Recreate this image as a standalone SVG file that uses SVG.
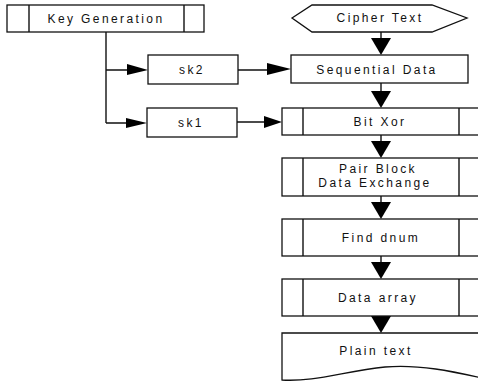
<svg xmlns="http://www.w3.org/2000/svg" width="478" height="384" viewBox="0 0 478 384">
<style>
.b{fill:#fff;stroke:#111;stroke-width:1.3}
.l{fill:none;stroke:#111;stroke-width:1.4}
.ah{fill:#000;stroke:none}
text{font-family:"Liberation Sans",Arial,sans-serif;font-size:12px;fill:#111;text-anchor:middle;letter-spacing:2.4px}
</style>
<rect width="478" height="384" fill="#fff"/>
<g id="connectors">
<path class="l" d="M106,32 V123 M106,70 H130 M106,123 H130"/>
<polygon class="ah" points="127,64 148,70 127,75"/>
<polygon class="ah" points="126,118 147,123 126,128"/>
<path class="l" d="M238,70 H270 M237,122 H268"/>
<polygon class="ah" points="267,63 291,69 267,75"/>
<polygon class="ah" points="264,116 282,122 264,128"/>
<path class="l" d="M381,32 V40 M381,83 V92 M381,135 V142 M381,196 V203 M381,256 V263 M381,316 V318"/>
<polygon class="ah" points="371,38 391,38 381,55"/>
<polygon class="ah" points="371,91 391,91 381,108"/>
<polygon class="ah" points="371,141 391,141 381,158"/>
<polygon class="ah" points="371,202 391,202 381,219"/>
<polygon class="ah" points="371,262 391,262 381,279"/>
<polygon class="ah" points="371,316 391,316 381,333"/>
</g>
<g id="keygen">
<rect class="b" x="7" y="5" width="197" height="27"/>
<path class="l" d="M29,5 V32 M184,5 V32"/>
<text x="106" y="23">Key Generation</text>
</g>
<g id="sk2">
<rect class="b" x="148" y="55" width="90" height="29"/>
<text x="192" y="74">sk2</text>
</g>
<g id="sk1">
<rect class="b" x="147" y="108" width="90" height="29"/>
<text x="191" y="127">sk1</text>
</g>
<g id="cipher">
<polygon class="b" points="292,18 312,5 432,5 467,18 432,32 312,32"/>
<text x="380" y="22">Cipher Text</text>
</g>
<g id="sequential">
<rect class="b" x="291" y="55" width="177" height="28"/>
<text x="377" y="74">Sequential Data</text>
</g>
<g id="bitxor">
<rect class="b" x="282" y="108" width="200" height="27"/>
<path class="l" d="M303,108 V135 M459,108 V135"/>
<text x="380" y="126">Bit Xor</text>
</g>
<g id="pairblock">
<rect class="b" x="282" y="158" width="200" height="38"/>
<path class="l" d="M303,158 V196 M459,158 V196"/>
<text x="378" y="173">Pair Block</text>
<text x="375" y="187">Data Exchange</text>
</g>
<g id="finddnum">
<rect class="b" x="282" y="219" width="200" height="37"/>
<path class="l" d="M303,219 V256 M459,219 V256"/>
<text x="381" y="242">Find dnum</text>
</g>
<g id="dataarray">
<rect class="b" x="282" y="279" width="200" height="37"/>
<path class="l" d="M303,279 V316 M459,279 V316"/>
<text x="378" y="302">Data array</text>
</g>
<g id="plaintext">
<path class="b" d="M282,333 H482 V378 C455,372 420,364 385,367 C345,371 315,382 282,380 Z"/>
<text x="376" y="355">Plain text</text>
</g>
</svg>
